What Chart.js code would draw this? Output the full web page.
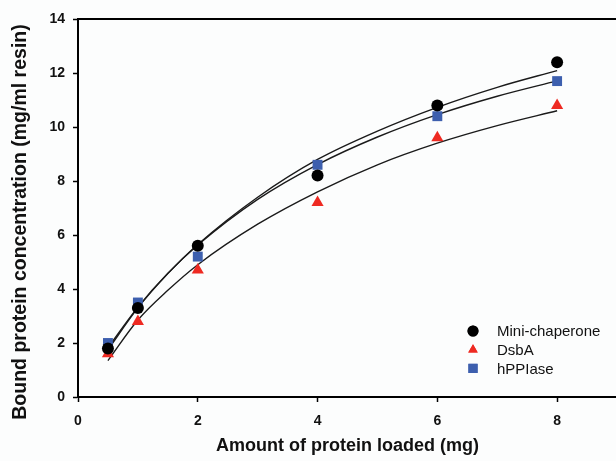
<!DOCTYPE html>
<html><head><meta charset="utf-8">
<script src="https://cdn.jsdelivr.net/npm/chart.js@4/dist/chart.umd.min.js"></script>
<style>
html,body{margin:0;padding:0;background:#fcfdfd;overflow:hidden;}
#wrap{position:relative;width:624px;height:461px;}
</style></head><body>
<div id="wrap"><canvas id="c"></canvas></div>
<script>
// Measured data
const loaded = [0.5, 1, 2, 4, 6, 8];
const miniChaperone = [1.8, 3.3, 5.6, 8.2, 10.8, 12.4];
const dsbA = [1.6, 2.8, 4.7, 7.2, 9.6, 10.8];
const hPPIase = [2.0, 3.5, 5.2, 8.6, 10.4, 11.7];
// Fitted curves
const fitX = [0.5, 1, 1.5, 2, 3, 4, 5, 6, 7, 8];
const fitMini = [1.75, 3.3, 4.57, 5.65, 7.4, 8.8, 9.85, 10.73, 11.47, 12.09];
const fitDsbA = [1.35, 2.85, 3.95, 4.9, 6.4, 7.6, 8.6, 9.4, 10.05, 10.6];
const fitHPP = [1.83, 3.33, 4.58, 5.63, 7.32, 8.61, 9.63, 10.46, 11.14, 11.71];
const xTicks = [0, 2, 4, 6, 8];
const yTicks = [0, 2, 4, 6, 8, 10, 12, 14];

const RED = '#ee2a22', BLUE = '#3d5fae';
const FONT = '"Liberation Sans", Arial, sans-serif';
const pts = (xs, ys) => xs.map((x, i) => ({x, y: ys[i]}));
const fitStyle = {showLine: true, pointRadius: 0, borderColor: '#1a1a1a', borderWidth: 1.4, cubicInterpolationMode: 'monotone', fill: false};

const legendItems = [
  {label: 'Mini-chaperone', style: 'circle', color: '#000'},
  {label: 'DsbA', style: 'triangle', color: RED},
  {label: 'hPPIase', style: 'rect', color: BLUE}
];

const extras = {
  id: 'extras',
  afterDraw(chart) {
    const ctx = chart.ctx, a = chart.chartArea;
    ctx.save();
    ctx.strokeStyle = '#000'; ctx.lineWidth = 2;
    ctx.beginPath(); ctx.moveTo(a.left, a.top); ctx.lineTo(chart.width, a.top); ctx.stroke();
    // y axis title
    ctx.fillStyle = '#111';
    ctx.font = 'bold 19.5px ' + FONT;
    ctx.textAlign = 'center'; ctx.textBaseline = 'middle';
    ctx.translate(21, 222); ctx.rotate(-Math.PI / 2);
    ctx.fillText('Bound protein concentration (mg/ml resin)', 0, 0);
    ctx.setTransform(1, 0, 0, 1, 0, 0);
    ctx.scale(chart.currentDevicePixelRatio, chart.currentDevicePixelRatio);
    ctx.font = '15px ' + FONT;
    ctx.textAlign = 'left';
    legendItems.forEach((it, i) => {
      const y = 331 + i * 18.7, x = 473;
      ctx.fillStyle = it.color;
      Chart.helpers.drawPoint(ctx, {pointStyle: it.style, radius: it.style === 'rect' ? 6.5 : 5.5, borderWidth: 0}, x, y);
      ctx.fill();
      ctx.fillStyle = '#111';
      ctx.fillText(it.label, 497, y + 1);
    });
    ctx.restore();
  }
};

new Chart(document.getElementById('c'), {
  type: 'scatter',
  data: {datasets: [
    {label: 'Mini-chaperone', data: pts(loaded, miniChaperone), pointStyle: 'circle', pointRadius: 6, backgroundColor: '#000', borderWidth: 0},
    {label: 'DsbA', data: pts(loaded, dsbA), pointStyle: 'triangle', pointRadius: 7, backgroundColor: RED, borderWidth: 0},
    {label: 'hPPIase', data: pts(loaded, hPPIase), pointStyle: 'rect', pointRadius: 7, backgroundColor: BLUE, borderWidth: 0},
    Object.assign({label: 'fit1', data: pts(fitX, fitMini)}, fitStyle),
    Object.assign({label: 'fit2', data: pts(fitX, fitDsbA)}, fitStyle),
    Object.assign({label: 'fit3', data: pts(fitX, fitHPP)}, fitStyle)
  ]},
  options: {
    responsive: true, maintainAspectRatio: false, animation: false,
    layout: {padding: {top: 19, right: 3, left: 0, bottom: 0}},
    plugins: {legend: {display: false}, tooltip: {enabled: false}},
    scales: {
      x: {
        type: 'linear', min: 0, max: 9,
        afterBuildTicks: s => { s.ticks = xTicks.map(v => ({value: v})); },
        afterFit: s => { s.height = 64; },
        border: {color: '#000', width: 2},
        grid: {drawOnChartArea: false, tickLength: 5, tickColor: '#000', tickWidth: 1.5},
        ticks: {color: '#111', padding: 11, font: {family: FONT, size: 14, weight: 'bold'}},
        title: {display: true, text: 'Amount of protein loaded (mg)', color: '#111', padding: {top: 9}, font: {family: FONT, size: 18, weight: 'bold'}}
      },
      y: {
        type: 'linear', min: 0, max: 14,
        afterBuildTicks: s => { s.ticks = yTicks.map(v => ({value: v})); },
        afterFit: s => { s.width = 78; },
        border: {color: '#000', width: 2},
        grid: {drawOnChartArea: false, tickLength: 5, tickColor: '#000', tickWidth: 1.5},
        ticks: {color: '#111', padding: 8, font: {family: FONT, size: 14, weight: 'bold'}},
        title: {display: false}
      }
    }
  },
  plugins: [extras]
});
</script>
</body></html>
